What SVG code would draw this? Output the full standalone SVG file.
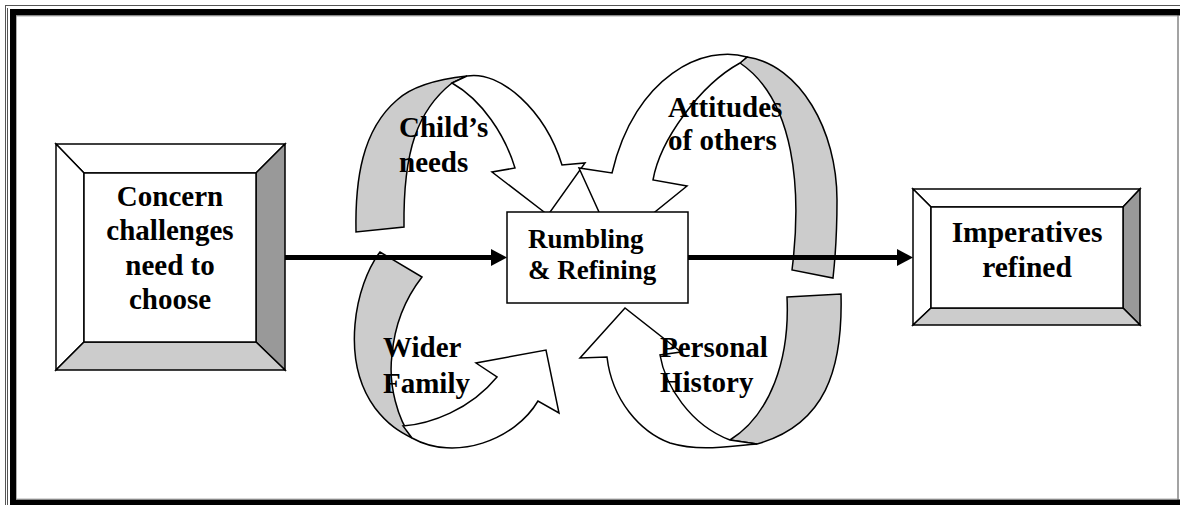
<svg xmlns="http://www.w3.org/2000/svg" width="1180" height="505" viewBox="0 0 1180 505">
<style>
.t{font-family:"Liberation Serif","Times New Roman",serif;font-weight:bold;font-size:29px;fill:#000}
.c{text-anchor:middle}
.ol{stroke:#000;stroke-width:1.5;stroke-linejoin:miter}
.wh{fill:#fff}
.gr{fill:#ccc}
.dk{fill:#999}
.conn{stroke:#000;stroke-width:5;fill:none}
</style>
<g id="frame">
<rect x="0" y="0" width="1180" height="505" fill="#fff"/>
<path d="M5,5.5H1180M5.5,5V505M7.5,8V505" stroke="#555" stroke-width="1" fill="none"/>
<rect x="10" y="9" width="1170" height="6.5" fill="#000"/>
<rect x="10" y="9" width="6" height="496" fill="#000"/>
<rect x="10" y="499.5" width="1170" height="5.5" fill="#000"/>
<path d="M16.5,16V499M16,16H1177M16,499H1177" stroke="#999" stroke-width="0.8" fill="none"/>
<path d="M1178,15V500" stroke="#666" stroke-width="1.2" fill="none"/>
</g>
<g id="childs-needs">
<path class="ol gr" d="M356,232 C355,180 362,130 397,100 C410,88 430,80 467,76 L452,83 C418,110 403,150 404,227 Z"/>
<path class="ol wh" d="M467,76 C500,70 545,110 562,165 L585,163 L548,215 L492,172 L515,168 C505,135 482,100 452,83 Z"/>
<text class="t" x="399" y="137.3">Child’s</text>
<text class="t" x="399" y="171.7">needs</text>
</g>
<g id="attitudes-of-others">
<path class="ol gr" d="M747,57 C800,65 837,130 837,200 C837,240 835,260 833,278 L792,270 C802,190 795,100 740,63 Z"/>
<path class="ol wh" d="M747,57 C705,44 635,75 612,173 L579,168 L614,245 L687,186 L653,180 C660,140 700,85 740,63 Z"/>
<text class="t" x="668" y="117.3">Attitudes</text>
<text class="t" x="668" y="150">of others</text>
</g>
<g id="wider-family">
<path class="ol gr" d="M380,252 C355,285 340,360 375,408 C388,425 400,432 412,438 C398,420 388,385 392,355 C395,320 408,295 422,277 Z"/>
<path class="ol wh" d="M403,426 C430,424 470,410 497,377 L476,363 L546,350 L559,413 L538,401 C515,440 455,462 412,438 Z"/>
<text class="t" x="383" y="356.7">Wider</text>
<text class="t" x="383" y="392.7">Family</text>
</g>
<g id="personal-history">
<path class="ol gr" d="M787,297 L841,294 C843,370 825,425 757,444 L730,440 C770,415 790,360 787,297 Z"/>
<path class="ol wh" d="M757,444 C730,446 700,452 670,443 C640,432 612,400 607,357 L580,358 L625,308 L681,352 L660,355 C665,385 690,425 730,440 Z"/>
<text class="t" x="660" y="356.7">Personal</text>
<text class="t" x="660" y="392.3">History</text>
</g>
<g id="connectors">
<path class="conn" d="M285,257.5H493"/>
<polygon points="491,249 507,257.5 491,266" fill="#000"/>
<path class="conn" d="M688,257.5H899"/>
<polygon points="897,249 913,257.5 897,266" fill="#000"/>
</g>
<g id="concern">
<polygon class="ol wh" points="56,144 285,144 256,173 84,173"/>
<polygon class="ol wh" points="56,144 84,173 84,342 56,370"/>
<polygon class="ol dk" points="285,144 285,370 256,342 256,173"/>
<polygon class="ol gr" points="56,370 84,342 256,342 285,370"/>
<rect class="ol wh" x="84" y="173" width="172" height="169"/>
<text class="t c" x="170" y="205.5">Concern</text>
<text class="t c" x="170" y="240">challenges</text>
<text class="t c" x="170" y="274.5">need to</text>
<text class="t c" x="170" y="309">choose</text>
</g>
<g id="rumbling">
<rect class="ol wh" x="507" y="212" width="181" height="91"/>
<text class="t" x="528" y="248.3" style="font-size:27px">Rumbling</text>
<text class="t" x="528" y="279.3" style="font-size:27px">&amp; Refining</text>
</g>
<g id="imperatives">
<polygon class="ol wh" points="913,189 1140,189 1123,207 931,207"/>
<polygon class="ol wh" points="913,189 931,207 931,308 913,325"/>
<polygon class="ol dk" points="1140,189 1140,325 1123,308 1123,207"/>
<polygon class="ol gr" points="913,325 931,308 1123,308 1140,325"/>
<rect class="ol wh" x="931" y="207" width="192" height="101"/>
<text class="t c" x="1027" y="241.7" style="font-size:29.5px">Imperatives</text>
<text class="t c" x="1027" y="276.7" style="font-size:29.5px">refined</text>
</g>
</svg>
